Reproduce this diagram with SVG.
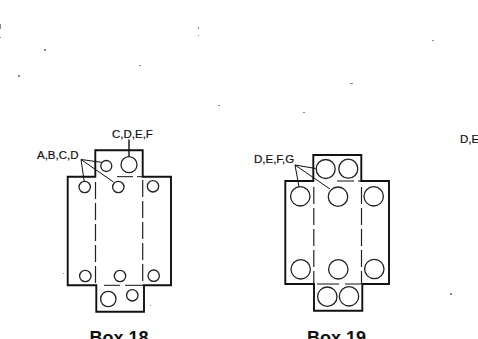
<svg xmlns="http://www.w3.org/2000/svg" width="478" height="339" viewBox="0 0 478 339">
<style>
.o{fill:none;stroke:#111;stroke-width:1.9}
.d{fill:none;stroke:#222;stroke-width:1.2;stroke-dasharray:17 4}
.h{fill:#fff;stroke:#222;stroke-width:1.3}
.l{fill:none;stroke:#111;stroke-width:1}
.t{font-family:"Liberation Sans",Arial,sans-serif;font-size:11.5px;fill:#111;stroke:#111;stroke-width:.2}
.b{font-family:"Liberation Sans",Arial,sans-serif;font-size:18px;font-weight:bold;fill:#111;text-anchor:middle}
.s{fill:#888}
</style>
<rect width="478" height="339" fill="#fff"/>
<g id="specks">
<rect class="s" x="198" y="27" width="1" height="2"/><rect class="s" x="198" y="35" width="1" height="1"/><rect class="s" x="0" y="24" width="1" height="5"/><rect class="s" x="0" y="37" width="1" height="1"/>
<rect class="s" x="44" y="49" width="2" height="2"/><rect class="s" x="139" y="65" width="2" height="1"/><rect class="s" x="18" y="75" width="2" height="2"/><rect class="s" x="218" y="105" width="2" height="1"/>
<rect class="s" x="303" y="112" width="2" height="1"/><rect class="s" x="350" y="83" width="3" height="1"/><rect class="s" x="432" y="40" width="2" height="1"/><rect class="s" x="450" y="293" width="2" height="2"/>
<rect class="s" x="63" y="273" width="1" height="1"/><rect class="s" x="150" y="305" width="1" height="1"/>
</g>
<g id="connectors">
<path class="l" d="M81 159.5L84.3 182M81 159.5L103 162.5M81 159.5L113.5 182"/>
<path d="M129 139.5V157.5" fill="none" stroke="#111" stroke-width="1.4"/>
<path class="l" d="M295 165L299 187M295 165L315.7 168.5M295 165L330 189"/>
</g>
<g id="box18">
<path class="o" d="M95.3 176.7V150.3H142.7V176.7H171V285.3H144V311.7H96.3V285.3H67.7V176.7Z"/>
<path class="d" d="M95.5 182V285M142.7 180V285"/>
<path class="l" d="M117 176.7H133M137 176.7H142M104 285.3H120M125 285.3H144"/>
<circle class="h" cx="106.3" cy="166" r="5.5"/><circle class="h" cx="129" cy="164.7" r="8"/>
<circle class="h" cx="84.7" cy="187" r="5.7"/><circle class="h" cx="118.3" cy="187" r="5.7"/><circle class="h" cx="153" cy="186.3" r="5.7"/>
<circle class="h" cx="85.3" cy="276" r="5.7"/><circle class="h" cx="120" cy="276" r="5.7"/><circle class="h" cx="153.7" cy="275.7" r="5.7"/>
<circle class="h" cx="108.3" cy="299" r="7.7"/><circle class="h" cx="132.3" cy="295.3" r="5.7"/>
<text class="t" x="112" y="137.5">C,D,E,F</text>
<text class="t" x="37" y="158.5">A,B,C,D</text>
<text class="b" x="119" y="343.5">Box 18</text>
</g>
<g id="box19">
<path class="o" d="M313.3 181V155H361.3V181H389V284H362.3V310.7H314V284H285.3V181Z"/>
<path class="d" d="M313.8 187V284M361.5 187V284"/>
<path class="l" d="M337 181H354M358 181H361M317 284H339M345 284H361"/>
<circle class="h" cx="325.7" cy="169" r="9.5"/><circle class="h" cx="348.3" cy="168.7" r="9.5"/>
<circle class="h" cx="300.3" cy="196.3" r="9.7"/><circle class="h" cx="338" cy="196.7" r="9.7"/><circle class="h" cx="373.7" cy="196.3" r="9.7"/>
<circle class="h" cx="300.7" cy="269.3" r="9.7"/><circle class="h" cx="338.3" cy="269.3" r="9.7"/><circle class="h" cx="374.3" cy="269" r="9.7"/>
<circle class="h" cx="327.3" cy="296.7" r="9.7"/><circle class="h" cx="349" cy="296.3" r="9.7"/>
<text class="t" x="254" y="163">D,E,F,G</text>
<text class="b" x="336.5" y="343.5">Box 19</text>
</g>
<text class="t" x="460" y="143">D,E</text>
</svg>
